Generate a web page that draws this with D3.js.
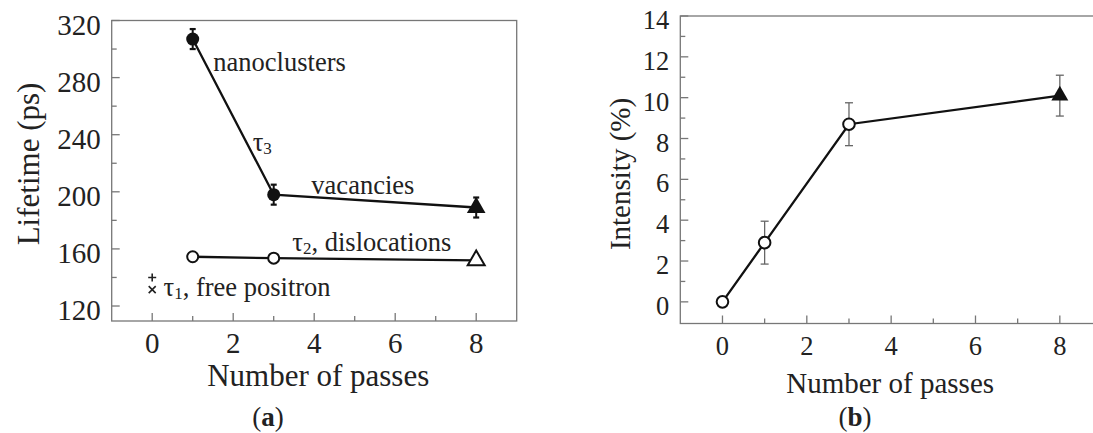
<!DOCTYPE html>
<html>
<head>
<meta charset="utf-8">
<script src="https://cdn.jsdelivr.net/npm/d3@7"></script>
<style>
  body { margin: 0; background: #fff; }
  svg { display: block; }
  text { font-family: "Liberation Serif", "DejaVu Serif", serif; fill: #222; }
</style>
</head>
<body>
<svg id="chart" width="1093" height="433"></svg>
<script>
// panel (a): positron lifetimes vs number of passes
const passesA = [1, 3, 8];
const tau3 = [307, 198, 189];
const tau3Err = [7, 7, 7];
const tau2 = [154.5, 153.5, 152];
const tau1Pass = 0;
const tau1Plus = 140;
const tau1Cross = 131.5;

// panel (b): intensity vs number of passes
const passesB = [0, 1, 3, 8];
const intensity = [0, 2.9, 8.7, 10.1];
const intensityErr = [0, 1.05, 1.05, 1.0];

const xTicks = [0, 2, 4, 6, 8];
const xMinor = [1, 3, 5, 7];
const yTicksA = [120, 160, 200, 240, 280, 320];
const yMinorA = [140, 180, 220, 260, 300];
const yTicksB = [0, 2, 4, 6, 8, 10, 12, 14];
const yMinorB = [1, 3, 5, 7, 9, 11, 13];

const svg = d3.select('#chart');
const axisColor = '#777';
const serif = '"Liberation Serif", "DejaVu Serif", serif';

// framed panel with inward ticks
function drawFrame(g, x, y, o) {
	const [x0, x1] = x.range();
	const [y0, y1] = y.range(); // y0 bottom, y1 top
	g.append('rect')
		.attr('x', x0).attr('y', y1)
		.attr('width', x1 - x0).attr('height', y0 - y1)
		.attr('fill', 'none').attr('stroke', axisColor).attr('stroke-width', 1.3);

	// x ticks (inward)
	g.selectAll('.xt').data(xTicks.concat(xMinor)).enter().append('line')
		.attr('x1', d => x(d)).attr('x2', d => x(d))
		.attr('y1', y0).attr('y2', d => y0 - (xTicks.includes(d) ? 8 : 5))
		.attr('stroke', axisColor).attr('stroke-width', 1.3);
	g.selectAll('.xl').data(xTicks).enter().append('text')
		.attr('x', d => x(d)).attr('y', y0 + o.xLabelDy)
		.attr('text-anchor', 'middle').attr('dominant-baseline', 'central')
		.style('font-size', o.tickSize + 'px')
		.text(d => d);

	// y ticks (inward)
	g.selectAll('.yt').data(o.yTicks.concat(o.yMinor)).enter().append('line')
		.attr('x1', x0).attr('x2', d => x0 + (o.yTicks.includes(d) ? 8 : 5))
		.attr('y1', d => y(d)).attr('y2', d => y(d))
		.attr('stroke', axisColor).attr('stroke-width', 1.3);
	g.selectAll('.yl').data(o.yTicks).enter().append('text')
		.attr('x', x0 - 11).attr('y', d => y(d) + 4)
		.attr('text-anchor', 'end').attr('dominant-baseline', 'central')
		.style('font-size', o.tickSize + 'px')
		.text(d => d);

	g.append('text')
		.attr('x', (x0 + x(9)) / 2 + o.titleShift).attr('y', o.xTitleY)
		.attr('text-anchor', 'middle').attr('dominant-baseline', 'central')
		.style('font-size', o.titleSize + 'px')
		.text('Number of passes');
	g.append('text')
		.attr('transform', `translate(${o.yTitleX},${o.yTitleY}) rotate(-90)`)
		.attr('text-anchor', 'middle').attr('dominant-baseline', 'central')
		.style('font-size', o.titleSize + 'px')
		.text(o.yTitle);

	const cap = g.append('text')
		.attr('x', o.capX).attr('y', 417)
		.attr('text-anchor', 'middle').attr('dominant-baseline', 'central')
		.style('font-size', '27px');
	cap.append('tspan').text('(');
	cap.append('tspan').style('font-weight', 'bold').text(o.cap);
	cap.append('tspan').text(')');
}

const line = (x, y) => d3.line().x(d => x(d[0])).y(d => y(d[1]));

// ---------- panel (a) ----------
const xA = d3.scaleLinear().domain([-1, 9]).range([111.7, 516.7]);
const yA = d3.scaleLinear().domain([109.5, 320]).range([321, 20.5]);
const gA = svg.append('g');
drawFrame(gA, xA, yA, {
	yTicks: yTicksA, yMinor: yMinorA, tickSize: 29, titleSize: 31,
	xLabelDy: 22, xTitleY: 375, titleShift: 4, yTitle: 'Lifetime (ps)',
	yTitleX: 28, yTitleY: 164, capX: 268, cap: 'a'
});

// tau3: line, error bars, markers
const t3 = passesA.map((p, i) => [p, tau3[i], tau3Err[i]]);
gA.append('path').datum(t3).attr('d', line(xA, yA))
	.attr('fill', 'none').attr('stroke', '#111').attr('stroke-width', 2.3);
const eA = gA.selectAll('.errA').data(t3).enter().append('g');
eA.append('line')
	.attr('x1', d => xA(d[0])).attr('x2', d => xA(d[0]))
	.attr('y1', d => yA(d[1] - d[2])).attr('y2', d => yA(d[1] + d[2]))
	.attr('stroke', '#111').attr('stroke-width', 2);
[-1, 1].forEach(s => {
	eA.append('line')
		.attr('x1', d => xA(d[0]) - 3).attr('x2', d => xA(d[0]) + 3)
		.attr('y1', d => yA(d[1] + s * d[2])).attr('y2', d => yA(d[1] + s * d[2]))
		.attr('stroke', '#111').attr('stroke-width', 2.2);
});
gA.selectAll('.t3c').data(t3.slice(0, 2)).enter().append('circle')
	.attr('cx', d => xA(d[0])).attr('cy', d => yA(d[1])).attr('r', 6.5)
	.attr('fill', '#111');
gA.selectAll('.t3t').data(t3.slice(2)).enter().append('path')
	.attr('d', d3.symbol(d3.symbolTriangle, 150))
	.attr('transform', d => `translate(${xA(d[0])},${yA(d[1])})`)
	.attr('fill', '#111');

// tau2: line and open markers
const t2 = passesA.map((p, i) => [p, tau2[i]]);
gA.append('path').datum(t2).attr('d', line(xA, yA))
	.attr('fill', 'none').attr('stroke', '#111').attr('stroke-width', 2.3);
gA.selectAll('.t2c').data(t2.slice(0, 2)).enter().append('circle')
	.attr('cx', d => xA(d[0])).attr('cy', d => yA(d[1])).attr('r', 5.5)
	.attr('fill', '#fff').attr('stroke', '#111').attr('stroke-width', 2);
gA.selectAll('.t2t').data(t2.slice(2)).enter().append('path')
	.attr('d', d3.symbol(d3.symbolTriangle, 125))
	.attr('transform', d => `translate(${xA(d[0])},${yA(d[1])})`)
	.attr('fill', '#fff').attr('stroke', '#111').attr('stroke-width', 2);

// tau1: + and x markers
const pc = xA(tau1Pass);
const py = yA(tau1Plus), cy = yA(tau1Cross);
gA.append('path')
	.attr('d', `M${pc - 4},${py}H${pc + 4}M${pc},${py - 4}V${py + 4}`)
	.attr('stroke', '#222').attr('stroke-width', 1.6);
gA.append('path')
	.attr('d', `M${pc - 3.5},${cy - 3.5}L${pc + 3.5},${cy + 3.5}M${pc - 3.5},${cy + 3.5}L${pc + 3.5},${cy - 3.5}`)
	.attr('stroke', '#222').attr('stroke-width', 1.6);

// annotation labels: greek letter, subscript, then the rest
function note(g, x, y, sym, sub, rest) {
	const t = g.append('text').attr('x', x).attr('y', y)
		.attr('dominant-baseline', 'central')
		.style('font-family', serif).style('font-size', '26.5px');
	if (sym) {
		t.append('tspan').text(sym);
		t.append('tspan').attr('dy', 6).style('font-size', '17px').text(sub);
	}
	if (rest) t.append('tspan').attr('dy', sym ? -6 : 0).text(rest);
}
note(gA, xA(1.51), yA(291), null, null, 'nanoclusters');
note(gA, xA(2.48), yA(235), 'τ', '3', null);
note(gA, xA(3.93), yA(205), null, null, 'vacancies');
note(gA, xA(3.46), yA(165), 'τ', '2', ', dislocations');
note(gA, xA(0.28), yA(133), 'τ', '1', ', free positron');

// ---------- panel (b) ----------
const xB = d3.scaleLinear().domain([-1, 9]).range([680.3, 1102]);
const yB = d3.scaleLinear().domain([-1.06, 14]).range([323.5, 16]);
const gB = svg.append('g');
drawFrame(gB, xB, yB, {
	yTicks: yTicksB, yMinor: yMinorB, tickSize: 26.5, titleSize: 29,
	xLabelDy: 22, xTitleY: 383, titleShift: -1, yTitle: 'Intensity (%)',
	yTitleX: 620, yTitleY: 174, capX: 855, cap: 'b'
});

const ib = passesB.map((p, i) => [p, intensity[i], intensityErr[i]]);
const eB = gB.selectAll('.errB').data(ib.filter(d => d[2] > 0)).enter().append('g');
eB.append('line')
	.attr('x1', d => xB(d[0])).attr('x2', d => xB(d[0]))
	.attr('y1', d => yB(d[1] - d[2])).attr('y2', d => yB(d[1] + d[2]))
	.attr('stroke', '#666').attr('stroke-width', 1.3);
[-1, 1].forEach(s => {
	eB.append('line')
		.attr('x1', d => xB(d[0]) - 4).attr('x2', d => xB(d[0]) + 4)
		.attr('y1', d => yB(d[1] + s * d[2])).attr('y2', d => yB(d[1] + s * d[2]))
		.attr('stroke', '#666').attr('stroke-width', 1.3);
});
gB.append('path').datum(ib).attr('d', line(xB, yB))
	.attr('fill', 'none').attr('stroke', '#111').attr('stroke-width', 2.3);
gB.selectAll('.ic').data(ib.slice(0, 3)).enter().append('circle')
	.attr('cx', d => xB(d[0])).attr('cy', d => yB(d[1])).attr('r', 5.8)
	.attr('fill', '#fff').attr('stroke', '#111').attr('stroke-width', 2);
gB.selectAll('.it').data(ib.slice(3)).enter().append('path')
	.attr('d', d3.symbol(d3.symbolTriangle, 125))
	.attr('transform', d => `translate(${xB(d[0])},${yB(d[1])})`)
	.attr('fill', '#111');
</script>
</body>
</html>
